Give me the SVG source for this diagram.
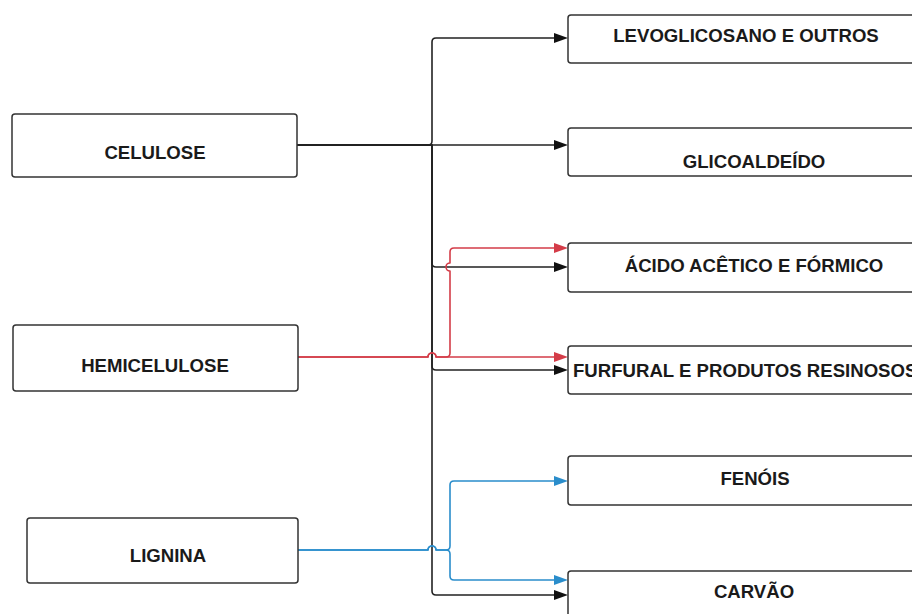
<svg xmlns="http://www.w3.org/2000/svg" width="912" height="614" viewBox="0 0 912 614">
<style>
.box{fill:#fff;stroke:#333;stroke-width:1.5}
.lbl{font-family:"Liberation Sans",Arial,sans-serif;font-weight:bold;font-size:18.6px;fill:#1a1a1a;text-anchor:middle}
.c{fill:none;stroke-width:1.6;stroke-linejoin:round}
.k{stroke:#222;marker-end:url(#ak)}
.r{stroke:#d43c48;marker-end:url(#ar)}
.b{stroke:#2a8dcb;marker-end:url(#ab)}
</style>
<defs>
<marker id="ak" markerUnits="userSpaceOnUse" viewBox="0 0 14 10" refX="8" refY="5" markerWidth="14" markerHeight="10" orient="auto"><path d="M0,0 L14,5 L0,10 z" fill="#111"/></marker>
<marker id="ar" markerUnits="userSpaceOnUse" viewBox="0 0 14 10" refX="8" refY="5" markerWidth="14" markerHeight="10" orient="auto"><path d="M0,0 L14,5 L0,10 z" fill="#d43c48"/></marker>
<marker id="ab" markerUnits="userSpaceOnUse" viewBox="0 0 14 10" refX="8" refY="5" markerWidth="14" markerHeight="10" orient="auto"><path d="M0,0 L14,5 L0,10 z" fill="#2a8dcb"/></marker>
</defs>
<g id="connectors">
<path class="c k" d="M297,145 H428 Q432,145 432,141 V42 Q432,38 436,38 H562"/>
<path class="c k" d="M297,145 H562"/>
<path class="c k" d="M297,145 H432 V263 Q432,267 436,267 H562"/>
<path class="c k" d="M297,145 H432 V366 Q432,370 436,370 H562"/>
<path class="c k" d="M297,145 H432 V591 Q432,595 436,595 H562"/>
<path class="c r" d="M298,357 H428 A4,4 0 0 1 436,357 H562"/>
<path class="c r" d="M298,357 H428 A4,4 0 0 1 436,357 H446 Q450,357 450,353 V271 A4,4 0 0 1 450,263 V252 Q450,248 454,248 H562"/>
<path class="c b" d="M298,550 H428 A4,4 0 0 1 436,550 H446 Q450,550 450,546 V485 Q450,481 454,481 H562"/>
<path class="c b" d="M298,550 H428 A4,4 0 0 1 436,550 H446 Q450,550 450,554 V576 Q450,580 454,580 H562"/>
</g>
<g id="celulose"><rect class="box" x="12" y="114" width="285" height="63" rx="3"/><text class="lbl" x="155" y="159">CELULOSE</text></g>
<g id="hemicelulose"><rect class="box" x="13" y="325" width="285" height="66" rx="3"/><text class="lbl" x="155" y="372">HEMICELULOSE</text></g>
<g id="lignina"><rect class="box" x="27" y="518" width="271" height="65" rx="3"/><text class="lbl" x="168" y="562">LIGNINA</text></g>
<g id="levoglicosano"><rect class="box" x="568" y="15" width="372" height="48" rx="3"/><text class="lbl" x="746" y="42">LEVOGLICOSANO E OUTROS</text></g>
<g id="glicoaldeido"><rect class="box" x="568" y="128" width="372" height="48" rx="3"/><text class="lbl" x="754" y="168">GLICOALDEÍDO</text></g>
<g id="acido"><rect class="box" x="568" y="243" width="372" height="49" rx="3"/><text class="lbl" x="754" y="272">ÁCIDO ACÊTICO E FÓRMICO</text></g>
<g id="furfural"><rect class="box" x="568" y="346" width="372" height="48" rx="3"/><text class="lbl" x="573" y="377" style="text-anchor:start">FURFURAL E PRODUTOS RESINOSOS</text></g>
<g id="fenois"><rect class="box" x="568" y="456" width="372" height="49" rx="3"/><text class="lbl" x="755" y="485">FENÓIS</text></g>
<g id="carvao"><rect class="box" x="568" y="571" width="372" height="49" rx="3"/><text class="lbl" x="754" y="598">CARVÃO</text></g>
</svg>
